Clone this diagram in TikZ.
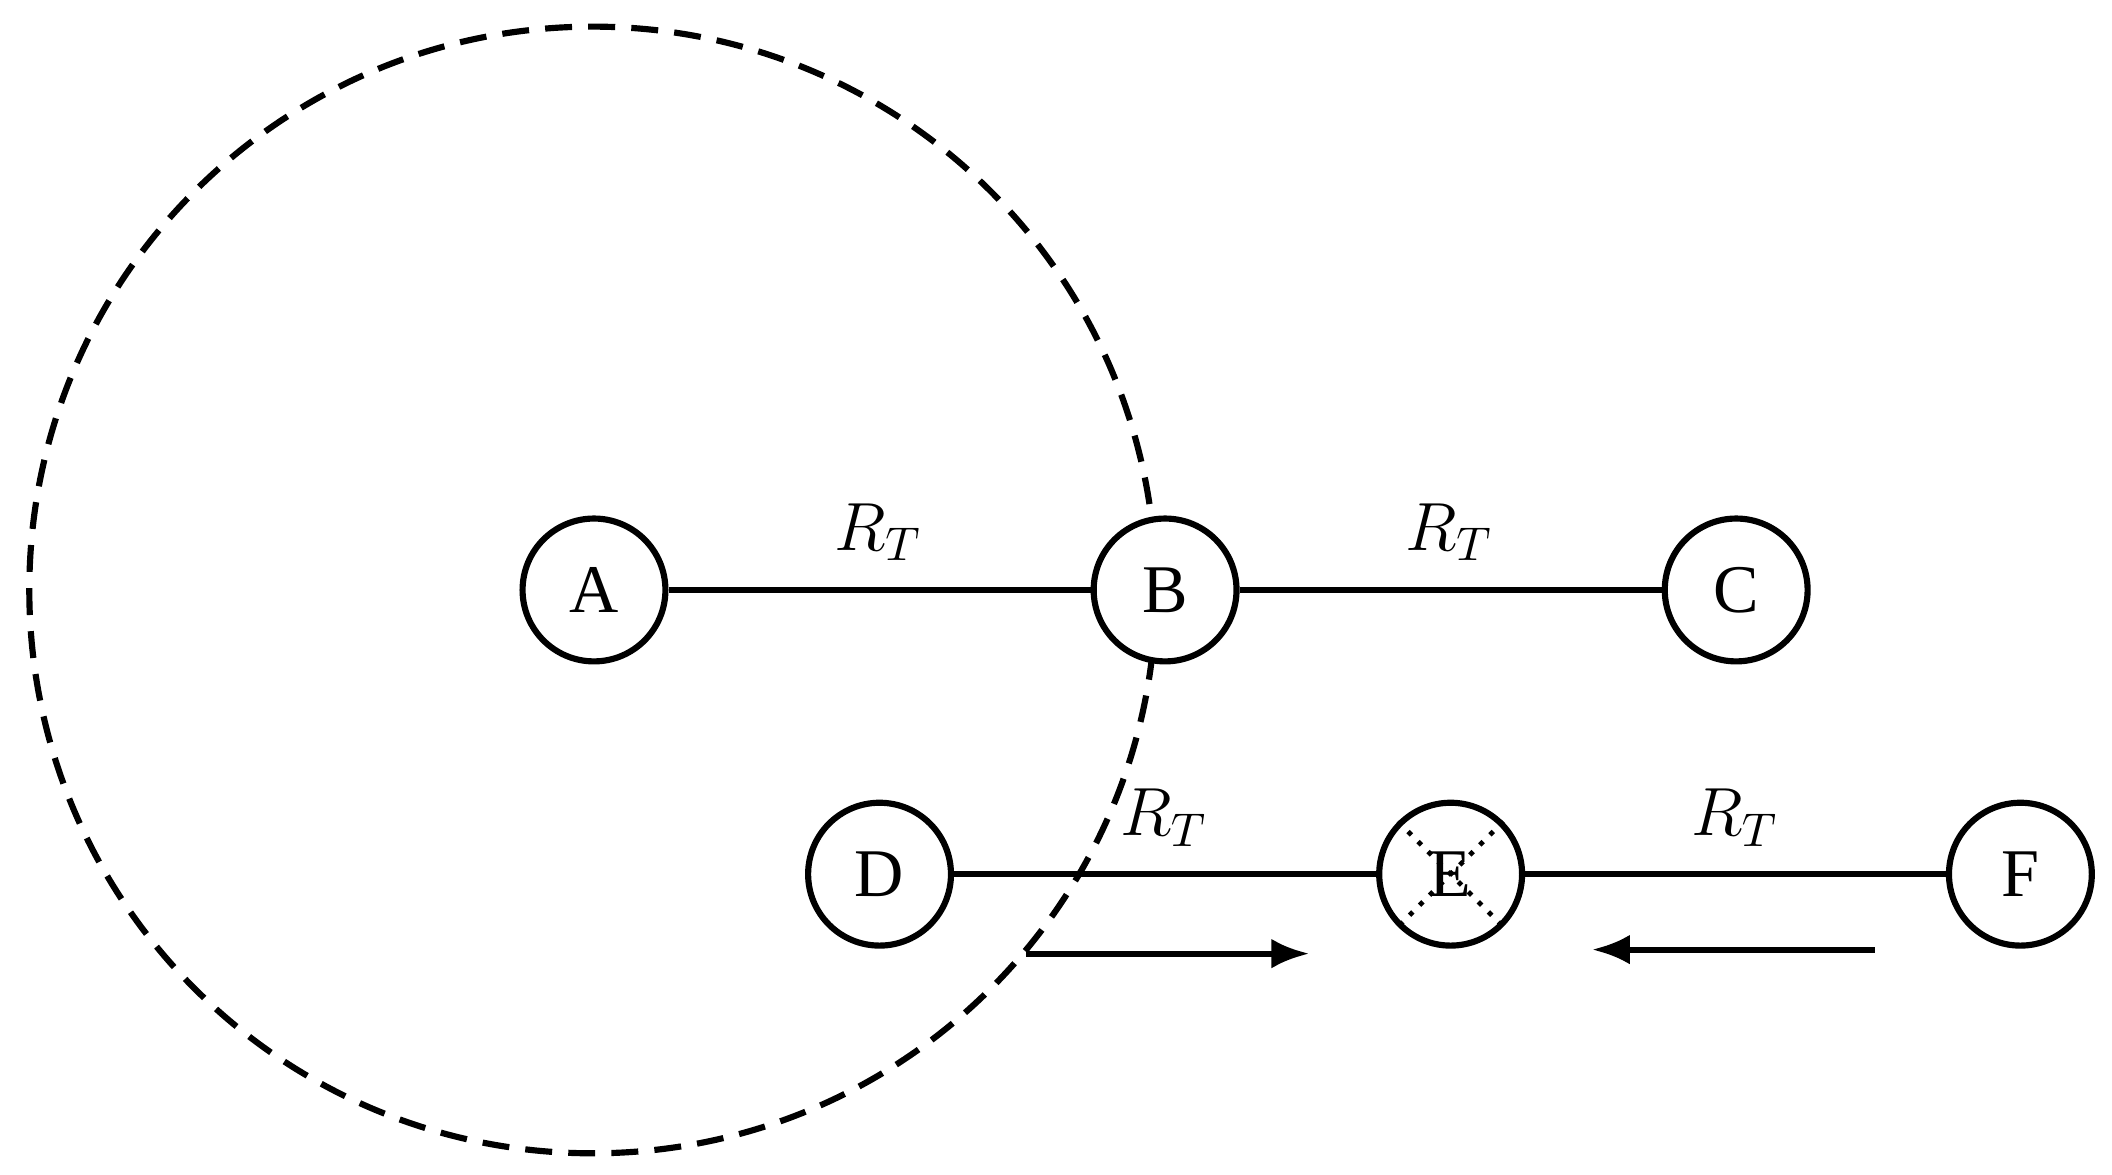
\documentclass[tikz,border=0pt]{standalone}
\usepackage{fontspec}
\setmainfont{Liberation Serif}
\usetikzlibrary{arrows.meta}
\begin{document}
\begin{tikzpicture}[x=0.01cm,y=-0.01cm,
  nd/.style={circle,draw,line width=1.3pt,minimum size=1.06cm,inner sep=0pt,fill=white,font=\Large},
  ln/.style={line width=1.3pt},
  ar/.style={line width=1.3pt,-{Latex[length=0.28cm,width=0.22cm]}},
  lb/.style={font=\Large}]
\useasboundingbox (0,0) rectangle (1568,872);
\draw[line width=1.3pt,dash pattern=on 0.2cm off 0.12cm] (440,438) circle[radius=4.18cm];
\node[nd] (A) at (441,438) {A};
\node[nd] (B) at (865,438) {B};
\node[nd] (C) at (1289,438) {C};
\node[nd] (D) at (653,649) {D};
\node[nd] (E) at (1077,649) {E};
\node[nd] (F) at (1500,649) {F};
\draw[ln] (A) -- (B); \draw[ln] (B) -- (C);
\draw[ln] (D) -- (E); \draw[ln] (E) -- (F);
\draw[dotted,line width=1pt] (E.45) -- (E.225) (E.135) -- (E.315);
\node[lb] at (652,395) {$R_T$};
\node[lb] at (1076,395) {$R_T$};
\node[lb] at (864,607) {$R_T$};
\node[lb] at (1288,607) {$R_T$};
\coordinate (a1) at (762,708); \coordinate (a2) at (972,708);
\coordinate (b1) at (1392,705); \coordinate (b2) at (1182,705);
\draw[ar] (a1) -- (a2);
\draw[ar] (b1) -- (b2);
\end{tikzpicture}
\end{document}
